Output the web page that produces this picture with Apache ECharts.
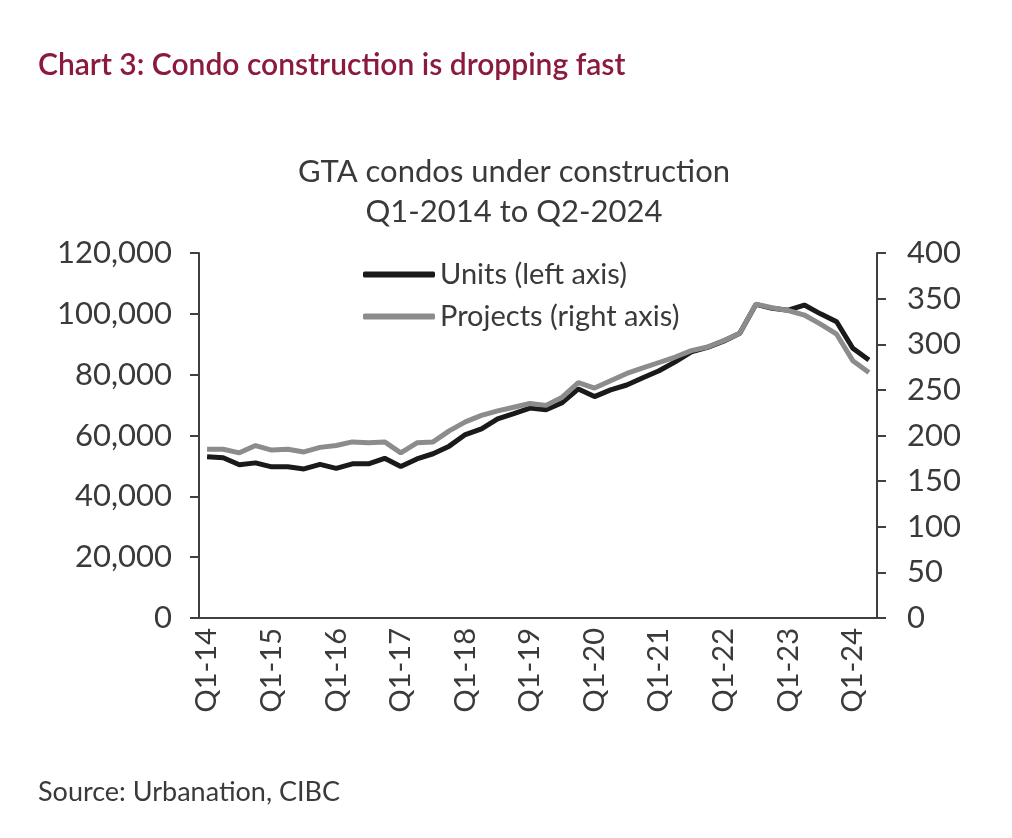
<!DOCTYPE html>
<html>
<head>
<meta charset="utf-8">
<script src="https://cdn.jsdelivr.net/npm/echarts@6/dist/echarts.min.js"></script>
<style>
  html, body { margin: 0; padding: 0; background: #fff; }
  #main { width: 1012px; height: 838px; }
</style>
</head>
<body>
<div id="main"></div>
<script>
// quarters Q1-14 .. Q2-24
var quarters = [];
(function(){
    for (var y = 14; y <= 24; y++) {
        for (var q = 1; q <= 4; q++) {
            if (y === 24 && q > 2) break;
            quarters.push('Q' + q + '-' + y);
        }
    }
})();

// units under construction (left axis)
var units = [
    53000, 52700, 50400, 51000, 49700, 49700, 49000, 50500, 49200, 50700,
    50700, 52500, 49800, 52300, 54000, 56500, 60300, 62200, 65500, 67200,
    69000, 68500, 70800, 75300, 72800, 75000, 76600, 79000, 81300, 84200,
    87500, 89000, 91000, 93600, 103100, 101800, 101200, 102900, 100000, 97400,
    88700, 84800
];

// projects under construction (right axis)
var projects = [
    185, 185, 181, 189, 184, 185, 182, 187, 189, 193,
    192, 193, 181, 192, 193, 205, 215, 222, 227, 231,
    235, 233, 242, 258, 252, 260, 268, 274, 280, 286,
    293, 297, 304, 312, 344, 340, 337, 332, 322, 311,
    282, 269
];

var leftTicks = { min: 0, max: 120000, interval: 20000 };
var rightTicks = { min: 0, max: 400, interval: 50 };

var FONT = 'Lato';
var AXIS_COLOR = '#404040';
var TEXT_COLOR = '#3a3a3a';

var myChart = echarts.init(document.getElementById('main'));

function everyYear(index) {
    return index % 4 === 0;
}

var option = {
    backgroundColor: '#fff',
    animation: false,
    textStyle: { fontFamily: FONT },
    title: [{
        text: 'Chart 3: Condo construction is dropping fast',
        left: 33,
        top: 45,
        textStyle: { color: '#8b1a3c', fontSize: 30, fontWeight: 600, fontFamily: FONT }
    }, {
        text: 'GTA condos under construction\nQ1-2014 to Q2-2024',
        left: 509,
        textAlign: 'center',
        top: 147,
        textStyle: { color: TEXT_COLOR, fontSize: 31, fontWeight: 'normal', lineHeight: 40, fontFamily: FONT }
    }, {
        text: 'Source: Urbanation, CIBC',
        left: 33,
        top: 774,
        textStyle: { color: TEXT_COLOR, fontSize: 27, fontWeight: 'normal', fontFamily: FONT }
    }],
    legend: {
        orient: 'vertical',
        left: 358,
        top: 255,
        icon: 'roundRect',
        itemWidth: 72,
        itemHeight: 6,
        itemGap: 13,
        textStyle: { color: TEXT_COLOR, fontSize: 29, fontFamily: FONT, padding: [0, 0, 0, 0] },
        data: ['Units (left axis)', 'Projects (right axis)']
    },
    grid: {
        left: 199,
        right: 135,
        top: 253,
        bottom: 220,
        containLabel: false
    },
    xAxis: {
        type: 'category',
        data: quarters,
        boundaryGap: true,
        axisLine: { lineStyle: { color: AXIS_COLOR, width: 2 } },
        axisTick: { interval: everyYear, length: 9, lineStyle: { color: AXIS_COLOR, width: 2 } },
        axisLabel: {
            interval: everyYear,
            rotate: 90,
            margin: 10,
            color: TEXT_COLOR,
            fontSize: 29,
            fontFamily: FONT
        },
        splitLine: { show: false }
    },
    yAxis: [{
        type: 'value',
        position: 'left',
        min: leftTicks.min,
        max: leftTicks.max,
        interval: leftTicks.interval,
        axisLine: { show: true, lineStyle: { color: AXIS_COLOR, width: 2 } },
        axisTick: { show: true, length: 9, lineStyle: { color: AXIS_COLOR, width: 2 } },
        axisLabel: {
            margin: 27,
            color: TEXT_COLOR,
            fontSize: 31,
            fontFamily: FONT,
            formatter: function (v) { return v.toLocaleString('en-US'); }
        },
        splitLine: { show: false }
    }, {
        type: 'value',
        position: 'right',
        min: rightTicks.min,
        max: rightTicks.max,
        interval: rightTicks.interval,
        axisLine: { show: true, lineStyle: { color: AXIS_COLOR, width: 2 } },
        axisTick: { show: true, length: 9, lineStyle: { color: AXIS_COLOR, width: 2 } },
        axisLabel: {
            margin: 30,
            color: TEXT_COLOR,
            fontSize: 31,
            fontFamily: FONT
        },
        splitLine: { show: false }
    }],
    series: [{
        name: 'Units (left axis)',
        type: 'line',
        yAxisIndex: 0,
        data: units,
        symbol: 'none',
        z: 3,
        itemStyle: { color: '#1a1a1a' },
        lineStyle: { color: '#1a1a1a', width: 5 }
    }, {
        name: 'Projects (right axis)',
        type: 'line',
        yAxisIndex: 1,
        data: projects,
        symbol: 'none',
        z: 4,
        itemStyle: { color: '#8c8c8c' },
        lineStyle: { color: '#8c8c8c', width: 5 }
    }]
};

myChart.setOption(option);
</script>
</body>
</html>
